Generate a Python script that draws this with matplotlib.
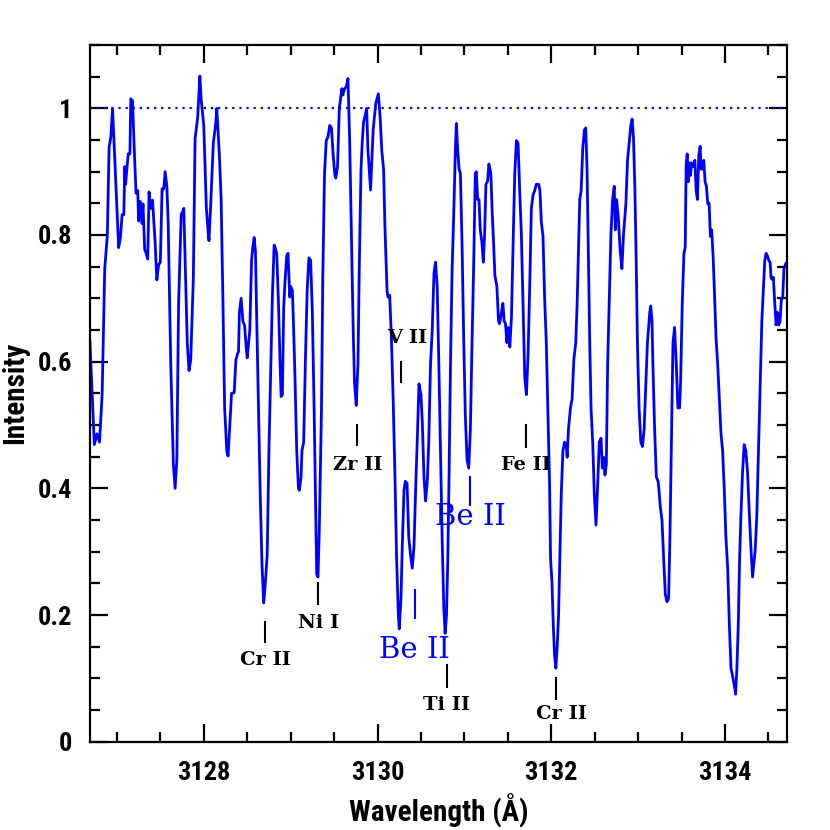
import matplotlib
matplotlib.use("Agg")
import matplotlib.pyplot as plt
from matplotlib.ticker import MultipleLocator
from matplotlib import font_manager

wavelength = [
    3126.69, 3126.74, 3126.77, 3126.80, 3126.83, 3126.86, 3126.89, 3126.91, 3126.93, 3126.95,
    3126.98, 3127.02, 3127.04, 3127.06, 3127.08, 3127.09, 3127.10, 3127.13, 3127.15, 3127.16,
    3127.18, 3127.20, 3127.22, 3127.24, 3127.25, 3127.27, 3127.29, 3127.30, 3127.32, 3127.34,
    3127.355, 3127.37, 3127.39, 3127.41, 3127.44, 3127.46, 3127.48, 3127.50, 3127.52, 3127.54,
    3127.555, 3127.575, 3127.59, 3127.62, 3127.65, 3127.67, 3127.69, 3127.71, 3127.74, 3127.76,
    3127.77, 3127.79, 3127.81, 3127.83, 3127.85, 3127.88, 3127.90, 3127.93, 3127.955, 3127.97,
    3128.00, 3128.03, 3128.05, 3128.06, 3128.08, 3128.11, 3128.14, 3128.15, 3128.18, 3128.20,
    3128.22, 3128.24, 3128.265, 3128.28, 3128.30, 3128.32, 3128.35, 3128.37, 3128.39, 3128.40,
    3128.41, 3128.43, 3128.45, 3128.47, 3128.49, 3128.50, 3128.53, 3128.55, 3128.565, 3128.58,
    3128.595, 3128.61, 3128.63, 3128.65, 3128.67, 3128.69, 3128.71, 3128.73, 3128.75, 3128.77,
    3128.79, 3128.81, 3128.82, 3128.84, 3128.86, 3128.88, 3128.89, 3128.905, 3128.92, 3128.935,
    3128.955, 3128.97, 3128.99, 3129.00, 3129.02, 3129.035, 3129.05, 3129.07, 3129.09, 3129.10,
    3129.12, 3129.13, 3129.15, 3129.17, 3129.19, 3129.21, 3129.23, 3129.25, 3129.27, 3129.29,
    3129.30, 3129.315, 3129.33, 3129.355, 3129.37, 3129.39, 3129.41, 3129.43, 3129.45, 3129.47,
    3129.49, 3129.51, 3129.52, 3129.54, 3129.56, 3129.57, 3129.59, 3129.60, 3129.62, 3129.64,
    3129.66, 3129.68, 3129.70, 3129.72, 3129.735, 3129.755, 3129.775, 3129.79, 3129.81, 3129.825,
    3129.84, 3129.86, 3129.875, 3129.89, 3129.92, 3129.95, 3129.98, 3130.01, 3130.03, 3130.05,
    3130.07, 3130.085, 3130.11, 3130.12, 3130.14, 3130.16, 3130.18, 3130.20, 3130.22, 3130.24,
    3130.25, 3130.27, 3130.285, 3130.305, 3130.32, 3130.34, 3130.36, 3130.38, 3130.40, 3130.42,
    3130.44, 3130.46, 3130.477, 3130.50, 3130.515, 3130.535, 3130.553, 3130.573, 3130.59, 3130.61,
    3130.63, 3130.65, 3130.668, 3130.687, 3130.706, 3130.725, 3130.744, 3130.763, 3130.778, 3130.794,
    3130.809, 3130.824, 3130.84, 3130.859, 3130.878, 3130.897, 3130.908, 3130.924, 3130.939, 3130.954,
    3130.973, 3130.992, 3131.011, 3131.031, 3131.05, 3131.069, 3131.088, 3131.107, 3131.126, 3131.137,
    3131.153, 3131.168, 3131.183, 3131.202, 3131.218, 3131.233, 3131.248, 3131.267, 3131.282, 3131.305,
    3131.32, 3131.336, 3131.351, 3131.374, 3131.393, 3131.405, 3131.424, 3131.443, 3131.458, 3131.473,
    3131.489, 3131.504, 3131.523, 3131.542, 3131.561, 3131.58, 3131.599, 3131.618, 3131.637, 3131.656,
    3131.676, 3131.695, 3131.714, 3131.733, 3131.752, 3131.771, 3131.79, 3131.809, 3131.828, 3131.855,
    3131.87, 3131.885, 3131.905, 3131.924, 3131.943, 3131.962, 3131.981, 3131.992, 3132.008, 3132.023,
    3132.038, 3132.053, 3132.069, 3132.084, 3132.099, 3132.115, 3132.134, 3132.153, 3132.172, 3132.183,
    3132.198, 3132.221, 3132.24, 3132.26, 3132.282, 3132.298, 3132.313, 3132.328, 3132.344, 3132.363,
    3132.382, 3132.397, 3132.412, 3132.427, 3132.443, 3132.458, 3132.477, 3132.496, 3132.515, 3132.534,
    3132.553, 3132.573, 3132.588, 3132.603, 3132.618, 3132.634, 3132.649, 3132.668, 3132.687, 3132.706,
    3132.725, 3132.737, 3132.752, 3132.771, 3132.794, 3132.813, 3132.832, 3132.859, 3132.878, 3132.897,
    3132.916, 3132.931, 3132.947, 3132.962, 3132.977, 3132.992, 3133.011, 3133.031, 3133.05, 3133.069,
    3133.088, 3133.107, 3133.134, 3133.145, 3133.16, 3133.17, 3133.19, 3133.21, 3133.23, 3133.24,
    3133.256, 3133.275, 3133.294, 3133.313, 3133.332, 3133.351, 3133.366, 3133.382, 3133.401, 3133.42,
    3133.439, 3133.458, 3133.477, 3133.489, 3133.508, 3133.527, 3133.542, 3133.553, 3133.565, 3133.576,
    3133.588, 3133.603, 3133.615, 3133.634, 3133.653, 3133.668, 3133.683, 3133.698, 3133.714, 3133.725,
    3133.74, 3133.756, 3133.771, 3133.786, 3133.802, 3133.817, 3133.832, 3133.847, 3133.863, 3133.878,
    3133.897, 3133.916, 3133.935, 3133.954, 3133.973, 3133.992, 3134.011, 3134.031, 3134.05, 3134.069,
    3134.088, 3134.107, 3134.122, 3134.137, 3134.153, 3134.168, 3134.183, 3134.202, 3134.221, 3134.24,
    3134.26, 3134.279, 3134.298, 3134.317, 3134.332, 3134.347, 3134.366, 3134.385, 3134.405, 3134.424,
    3134.443, 3134.458, 3134.473, 3134.489, 3134.504, 3134.519, 3134.53, 3134.542, 3134.557, 3134.573,
    3134.588, 3134.603, 3134.618, 3134.634, 3134.649, 3134.664, 3134.679, 3134.70,
]

intensity = [
    0.63, 0.469, 0.486, 0.473, 0.548, 0.747, 0.80, 0.938, 0.955, 1.0,
    0.904, 0.78, 0.795, 0.832, 0.832, 0.908, 0.88, 0.928, 0.928, 1.015,
    1.012, 0.935, 0.866, 0.87, 0.822, 0.853, 0.818, 0.849, 0.777, 0.77,
    0.762, 0.868, 0.842, 0.855, 0.788, 0.729, 0.753, 0.757, 0.873, 0.873,
    0.90, 0.877, 0.822, 0.596, 0.438, 0.40, 0.445, 0.692, 0.832, 0.838,
    0.842, 0.733, 0.63, 0.586, 0.603, 0.733, 0.952, 0.986, 1.051, 1.014,
    0.973, 0.842, 0.805, 0.791, 0.849, 0.945, 0.979, 1.0, 0.925, 0.856,
    0.70, 0.527, 0.459, 0.451, 0.50, 0.55, 0.551, 0.603, 0.613, 0.616,
    0.678, 0.70, 0.664, 0.657, 0.62, 0.606, 0.65, 0.76, 0.781, 0.796,
    0.774, 0.664, 0.527, 0.39, 0.281, 0.219, 0.253, 0.295, 0.459, 0.582,
    0.705, 0.784, 0.781, 0.77, 0.692, 0.589, 0.545, 0.548, 0.685, 0.726,
    0.767, 0.771, 0.702, 0.719, 0.712, 0.65, 0.575, 0.459, 0.40, 0.397,
    0.418, 0.459, 0.473, 0.603, 0.712, 0.764, 0.76, 0.678, 0.527, 0.349,
    0.264, 0.26, 0.336, 0.527, 0.733, 0.897, 0.949, 0.955, 0.973, 0.969,
    0.925, 0.894, 0.89, 0.908, 1.0, 1.01, 1.031, 1.021, 1.031, 1.034,
    1.047, 0.945, 0.801, 0.65, 0.568, 0.531, 0.596, 0.747, 0.904, 0.949,
    0.979, 0.99, 1.0, 0.934, 0.871, 0.966, 1.008, 1.023, 0.986, 0.932,
    0.904, 0.815, 0.712, 0.702, 0.705, 0.637, 0.541, 0.425, 0.288, 0.199,
    0.178, 0.226, 0.308, 0.397, 0.411, 0.408, 0.322, 0.295, 0.274, 0.308,
    0.404, 0.486, 0.565, 0.548, 0.507, 0.418, 0.38, 0.411, 0.473, 0.596,
    0.65, 0.74, 0.757, 0.719, 0.596, 0.459, 0.322, 0.212, 0.171, 0.199,
    0.288, 0.425, 0.596, 0.747, 0.836, 0.938, 0.976, 0.932, 0.904, 0.897,
    0.788, 0.637, 0.514, 0.445, 0.432, 0.493, 0.63, 0.753, 0.897, 0.90,
    0.856, 0.856, 0.808, 0.788, 0.757, 0.801, 0.88, 0.885, 0.912, 0.897,
    0.836, 0.788, 0.736, 0.719, 0.664, 0.66, 0.675, 0.692, 0.664, 0.66,
    0.63, 0.654, 0.623, 0.671, 0.788, 0.897, 0.949, 0.945, 0.87, 0.801,
    0.685, 0.575, 0.548, 0.61, 0.719, 0.842, 0.863, 0.87, 0.88, 0.88,
    0.87, 0.822, 0.798, 0.699, 0.63, 0.514, 0.404, 0.288, 0.253, 0.185,
    0.137, 0.116, 0.151, 0.199, 0.288, 0.39, 0.459, 0.473, 0.469, 0.449,
    0.493, 0.527, 0.541, 0.603, 0.63, 0.692, 0.774, 0.856, 0.87, 0.938,
    0.966, 0.969, 0.904, 0.767, 0.63, 0.527, 0.473, 0.39, 0.342, 0.404,
    0.473, 0.479, 0.432, 0.449, 0.421, 0.438, 0.596, 0.699, 0.801, 0.856,
    0.877, 0.808, 0.856, 0.829, 0.774, 0.747, 0.801, 0.849, 0.918, 0.945,
    0.973, 0.983, 0.952, 0.877, 0.767, 0.63, 0.527, 0.473, 0.466, 0.493,
    0.562, 0.63, 0.678, 0.688, 0.664, 0.596, 0.493, 0.418, 0.411, 0.397,
    0.37, 0.349, 0.288, 0.233, 0.221, 0.226, 0.322, 0.459, 0.63, 0.654,
    0.596, 0.527, 0.527, 0.568, 0.692, 0.77, 0.781, 0.911, 0.928, 0.884,
    0.914, 0.894, 0.914, 0.908, 0.918, 0.87, 0.856, 0.925, 0.94, 0.904,
    0.904, 0.918, 0.884, 0.877, 0.849, 0.85, 0.798, 0.808, 0.767, 0.712,
    0.637, 0.596, 0.541, 0.486, 0.459, 0.397, 0.322, 0.274, 0.185, 0.116,
    0.103, 0.089, 0.075, 0.116, 0.185, 0.288, 0.356, 0.425, 0.469, 0.459,
    0.425, 0.363, 0.308, 0.26, 0.281, 0.301, 0.356, 0.459, 0.562, 0.664,
    0.719, 0.76, 0.771, 0.767, 0.76, 0.757, 0.733, 0.73, 0.733, 0.692,
    0.658, 0.678, 0.658, 0.664, 0.699, 0.70, 0.747, 0.755,
]

# Line identifications
line_labels = ["Cr II", "Ni I", "Zr II", "V II", "Ti II", "Fe II", "Cr II"]
line_tick_x = [3128.71, 3129.31, 3129.76, 3130.27, 3130.80, 3131.71, 3132.06]
line_tick_y0 = [0.158, 0.218, 0.468, 0.568, 0.087, 0.466, 0.068]
line_tick_y1 = [0.189, 0.250, 0.500, 0.600, 0.121, 0.500, 0.100]
line_text_x = [3128.71, 3129.32, 3129.77, 3130.34, 3130.79, 3131.71, 3132.12]
line_text_y = [0.129, 0.188, 0.437, 0.637, 0.058, 0.437, 0.044]

be_labels = ["Be II", "Be II"]
be_tick_x = [3130.43, 3131.07]
be_tick_y0 = [0.195, 0.374]
be_tick_y1 = [0.240, 0.418]
be_text_x = [3130.42, 3131.07]
be_text_y = [0.145, 0.355]

xtick_values = [3128, 3130, 3132, 3134]
xtick_labels = ["3128", "3130", "3132", "3134"]
ytick_values = [0, 0.2, 0.4, 0.6, 0.8, 1.0]
ytick_labels = ["0", "0.2", "0.4", "0.6", "0.8", "1"]

BLUE = "#0000ff"

available = {f.name for f in font_manager.fontManager.ttflist}
narrow_candidates = ["Liberation Sans Narrow", "DejaVu Sans Condensed", "Roboto Condensed",
                     "Open Sans Condensed", "Noto Sans Display"]
narrow_font = None
for c in narrow_candidates:
    if c in available:
        narrow_font = c
        break
if narrow_font is None:
    narrow = ["DejaVu Sans"]
    tick_fs = 15
    label_fs = 16
else:
    narrow = [narrow_font, "DejaVu Sans"]
    tick_fs = 19
    label_fs = 21

fig = plt.figure(figsize=(8.3, 8.3), dpi=100)
ax = fig.add_axes([0.1084, 0.1064, 0.8394, 0.8394])

ax.plot(wavelength, intensity, color=BLUE, lw=2.0, solid_joinstyle="round")
ax.axhline(1.0, color=BLUE, lw=1.6, linestyle=(0, (1, 2.2)))

for lab, tx, y0, y1, lx, ly in zip(line_labels, line_tick_x, line_tick_y0, line_tick_y1,
                                   line_text_x, line_text_y):
    ax.plot([tx, tx], [y0, y1], color="black", lw=1.5)
    ax.text(lx, ly, lab, ha="center", va="center", fontsize=14,
            fontfamily="DejaVu Serif", fontweight="bold", color="black")

for lab, tx, y0, y1, lx, ly in zip(be_labels, be_tick_x, be_tick_y0, be_tick_y1,
                                   be_text_x, be_text_y):
    ax.plot([tx, tx], [y0, y1], color=BLUE, lw=1.5)
    ax.text(lx, ly, lab, ha="center", va="center", fontsize=21,
            fontfamily="DejaVu Serif", color=BLUE)

ax.set_xlim(3126.69, 3134.71)
ax.set_ylim(0, 1.1)

ax.xaxis.set_minor_locator(MultipleLocator(0.5))
ax.yaxis.set_minor_locator(MultipleLocator(0.05))

ax.tick_params(which="both", direction="in", top=True, right=True, width=1.6, colors="black")
ax.tick_params(which="major", length=13)
ax.tick_params(which="minor", length=7)
ax.tick_params(axis="x", which="major", pad=14)
ax.tick_params(axis="y", which="major", pad=13)

ax.set_xticks(xtick_values)
ax.set_xticklabels(xtick_labels)
ax.set_yticks(ytick_values)
ax.set_yticklabels(ytick_labels)
for t in ax.get_xticklabels() + ax.get_yticklabels():
    t.set_fontfamily(narrow)
    t.set_fontsize(tick_fs)
    t.set_fontweight("bold")

for s in ax.spines.values():
    s.set_linewidth(1.6)

ax.set_xlabel("Wavelength (Å)", fontsize=label_fs, fontfamily=narrow, fontweight="bold", labelpad=6)
ax.set_ylabel("Intensity", fontsize=label_fs, fontfamily=narrow, fontweight="bold")
ax.yaxis.set_label_coords(-0.088, 0.5)

fig.savefig("out.png", dpi=100)
